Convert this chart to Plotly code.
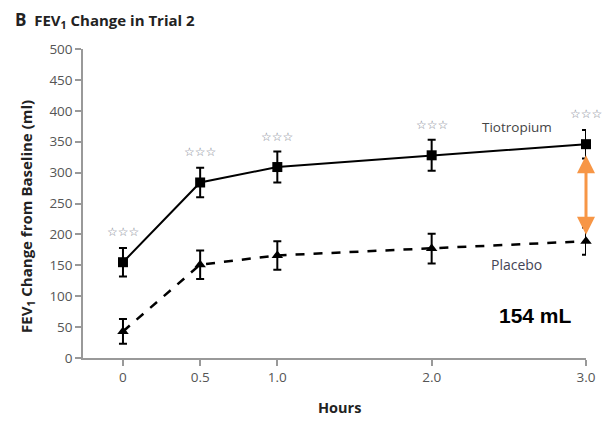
import plotly.graph_objects as go

hours = [0, 0.5, 1.0, 2.0, 3.0]
tick_labels = ["0", "0.5", "1.0", "2.0", "3.0"]
tio = [155, 284, 309, 328, 346]
tio_err = [23, 24, 25, 25, 23]
plac = [43, 151, 166, 177, 189]
plac_err = [20, 23, 23, 24, 22]
stars = ["☆☆☆"] * 5

FONT = "Open Sans"
OFF = 8  # default page body margin
W, H = 615 - OFF, 425 - OFF
L, R, T, B = 83 - OFF, 29, 49 - OFF, 67
pw, ph = W - L - R, H - T - B


def px(xpage):
    return (xpage - OFF - L) / pw


def py(ypage):
    return (H - B - (ypage - OFF)) / ph


fig = go.Figure()
fig.add_trace(go.Scatter(
    x=hours, y=plac, mode="lines+markers",
    line=dict(color="black", width=2.5, dash="dash"),
    marker=dict(symbol="triangle-up", size=10, color="black"),
    error_y=dict(type="data", array=plac_err, color="black", thickness=2, width=4),
    cliponaxis=False, showlegend=False))
fig.add_trace(go.Scatter(
    x=hours, y=tio, mode="lines+markers",
    line=dict(color="black", width=2),
    marker=dict(symbol="square", size=10, color="black"),
    error_y=dict(type="data", array=tio_err, color="black", thickness=2, width=4),
    cliponaxis=False, showlegend=False))

ann = []
for h, v, s in zip(hours, tio, stars):
    ann.append(dict(x=h, y=v, text=s, showarrow=False, yshift=30,
                    font=dict(family="DejaVu Sans", size=12, color="#7d8290")))
ann.append(dict(x=2.55, y=tio[3] + 45, text="Tiotropium", showarrow=False,
                font=dict(family=FONT, size=13.5, color="#444")))
ann.append(dict(x=2.55, y=plac[3] - 25, text="Placebo", showarrow=False,
                font=dict(family=FONT, size=14, color="#445")))
ann.append(dict(x=2.67, y=plac[3] - 108, text="<b>154 mL</b>", showarrow=False,
                font=dict(family="Liberation Sans", size=21, color="black")))
ann.append(dict(x=hours[-1], y=tio[-1] - 18, ax=hours[-1], ay=plac[-1] + 8,
                xref="x", yref="y", axref="x", ayref="y", text="",
                showarrow=True, arrowhead=2, arrowside="end+start",
                arrowsize=1.2, arrowwidth=3, arrowcolor="#F79646"))
# title
ann.append(dict(xref="paper", yref="paper", x=px(13), y=py(20),
                xanchor="left", yanchor="middle", showarrow=False,
                text="<b><span style='font-size:17px'>B</span>  FEV<sub>1</sub> Change in Trial 2</b>",
                font=dict(family=FONT, size=15, color="#222")))
# y title
ann.append(dict(xref="paper", yref="paper", x=px(27), y=py(217),
                textangle=-90, showarrow=False, xanchor="center", yanchor="middle",
                text="<b>FEV<sub>1</sub> Change from Baseline (ml)</b>",
                font=dict(family=FONT, size=15, color="#222")))
# x title
ann.append(dict(xref="paper", yref="paper", x=px(339), y=py(407),
                showarrow=False, xanchor="center", yanchor="middle",
                text="<b>Hours</b>",
                font=dict(family=FONT, size=14.5, color="#222")))

fig.update_layout(
    width=W, height=H, margin=dict(l=L, r=R, t=T, b=B),
    paper_bgcolor="white", plot_bgcolor="white",
    font=dict(family=FONT, size=12, color="#555"),
    annotations=ann,
    xaxis=dict(range=[-0.259, 3.0], tickvals=hours, ticktext=tick_labels,
               showline=True, linecolor="#999", linewidth=1.5,
               ticks="outside", ticklen=6, tickcolor="#999", tickwidth=1.5,
               showgrid=False, zeroline=False, fixedrange=True,
               tickfont=dict(family=FONT, size=13.5, color="#555")),
    yaxis=dict(range=[0, 500], dtick=50, tick0=0,
               showline=True, linecolor="#999", linewidth=1.5,
               ticks="outside", ticklen=6, tickcolor="#999", tickwidth=1.5,
               showgrid=False, zeroline=False, fixedrange=True,
               tickfont=dict(family=FONT, size=13.5, color="#555")),
)

fig.write_html("out.html")
